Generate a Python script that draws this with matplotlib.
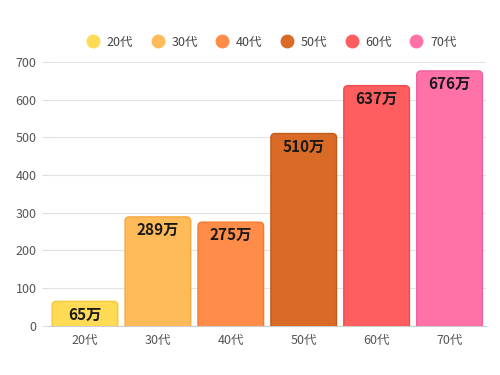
import matplotlib.pyplot as plt
from matplotlib.patches import FancyBboxPatch
from matplotlib.lines import Line2D

plt.rcParams['font.family'] = ['Noto Sans CJK JP', 'DejaVu Sans']

ages = ['20代', '30代', '40代', '50代', '60代', '70代']
values = [65, 289, 275, 510, 637, 676]
labels = ['65万', '289万', '275万', '510万', '637万', '676万']
colors = ['#FFDA55', '#FFBB5A', '#FF8C48', '#D96B27', '#FF5E61', '#FF72A8']
edges = ['#F5C83A', '#F5A840', '#F57A30', '#C25A18', '#EE4A50', '#F060A0']

fig = plt.figure(figsize=(5, 3.75), dpi=100)
ax = fig.add_axes([0.097, 0.131, 0.875, 0.704])

bars = ax.bar(range(len(ages)), values, width=0.9, color='none', edgecolor='none')
for b, c, e in zip(bars, colors, edges):
    p = FancyBboxPatch((b.get_x(), -20), b.get_width(), b.get_height() + 20,
                       boxstyle='round,pad=0,rounding_size=0.06',
                       mutation_aspect=180, facecolor=c, edgecolor=e,
                       linewidth=1, zorder=3)
    ax.add_patch(p)

for i, (v, t) in enumerate(zip(values, labels)):
    ax.annotate(t, (i, v), xytext=(0, -9.5), textcoords='offset points',
                ha='center', va='center', fontsize=11, fontweight='bold',
                color='#1a1a1a', zorder=4)

ax.set_xlim(-0.5, len(ages) - 0.5)
ax.set_ylim(0, 700)
ax.set_yticks(range(0, 701, 100))
ax.set_xticks(range(len(ages)))
ax.set_xticklabels(ages)
ax.grid(axis='y', color='#e3e3e3', linewidth=0.8, zorder=0)
ax.set_axisbelow(True)
for s in ['top', 'right', 'left']:
    ax.spines[s].set_visible(False)
ax.spines['bottom'].set_color('#cccccc')
ax.tick_params(axis='y', length=5, color='#dddddd', labelcolor='#555555', labelsize=9)
ax.tick_params(axis='x', length=0, labelcolor='#555555', labelsize=9, pad=6)

handles = [Line2D([], [], marker='o', linestyle='none', markersize=9,
                  markerfacecolor=c, markeredgecolor=c) for c in colors]
fig.legend(handles, ages, loc='center', bbox_to_anchor=(0.537, 0.888), ncol=6,
           frameon=False, fontsize=9, labelcolor='#444444', handletextpad=0.1,
           columnspacing=0.95)

fig.savefig('out.png', dpi=100)
